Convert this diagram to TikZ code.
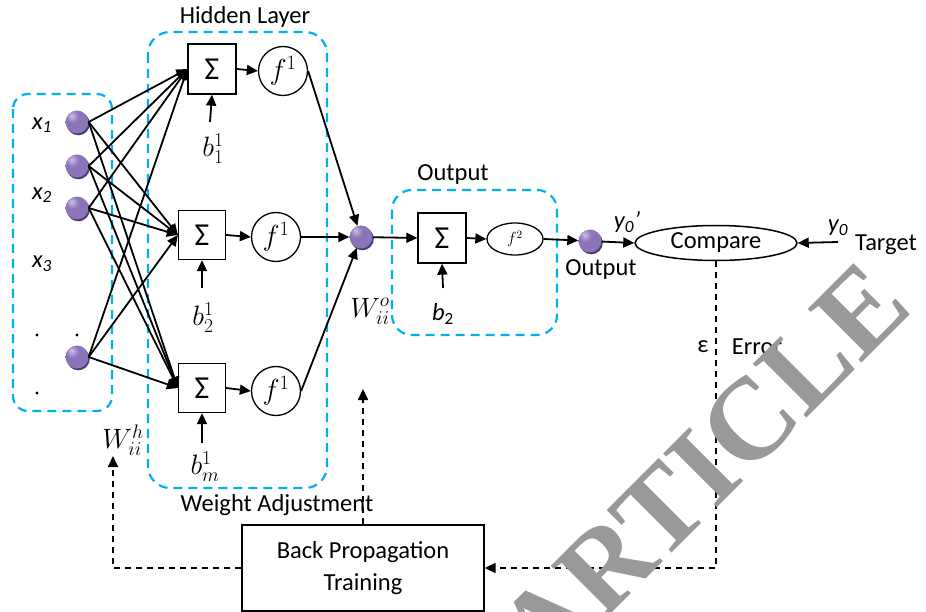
\RequirePackage{fix-cm}
\documentclass[tikz,border=0pt]{standalone}
\usepackage{fontspec}
\setmainfont{Carlito}
\newfontfamily\wmfont{Liberation Serif}
\usetikzlibrary{arrows.meta,shadows,shapes.geometric}
\definecolor{dblue}{RGB}{0,176,240}
\definecolor{ballh}{RGB}{205,190,230}
\definecolor{ballc}{RGB}{140,116,185}
\definecolor{ballo}{RGB}{110,88,155}
\definecolor{balld}{RGB}{78,58,112}
\definecolor{wmgray}{RGB}{153,153,153}
\pgfdeclareradialshading{purpball}{\pgfpoint{-12bp}{14bp}}{color(0bp)=(ballh); color(14bp)=(ballc); color(42bp)=(ballc); color(62bp)=(ballo); color(100bp)=(ballo)}
\newcommand\fsz{\fontsize{24.5pt}{29pt}\selectfont}
\newcommand\mfs{\fontsize{28pt}{32pt}\selectfont}
\newcommand\sig{{\fontsize{32pt}{32pt}\selectfont Σ}}
\begin{document}
\begin{tikzpicture}[x=1pt,y=-1pt, font=\fsz,
  arr/.style={line width=1.8pt, -{Triangle[length=11pt,width=10pt]}},
  sbox/.style={draw, line width=1.3pt, minimum width=47pt, minimum height=49pt, inner sep=0pt},
  fcirc/.style={draw, circle, line width=1.3pt, minimum size=49pt, inner sep=0pt},
  ball/.style={circle, minimum size=23pt, inner sep=0pt, shading=purpball,
    general shadow={fill=balld, shadow xshift=1.3pt, shadow yshift=-1.8pt}},
  grp/.style={draw=dblue, line width=2.2pt, dash pattern=on 9pt off 6pt},
  bk/.style={draw, line width=1.7pt, dash pattern=on 6pt off 5pt},
  bka/.style={bk, -{Triangle[length=11pt,width=10pt]}},
  dot/.style={circle, fill, minimum size=3.4pt, inner sep=0pt},
  mlab/.style={font=\mfs},
]
\useasboundingbox (0,0) rectangle (926,612);

% groups
\draw[grp, rounded corners=15pt] (13,94) rectangle (112,411);
\draw[grp, rounded corners=22pt] (148,32) rectangle (327,488);
\draw[grp, rounded corners=20pt] (392,190) rectangle (557,335);

% titles
\node (ht) at (245,17) {Hidden Layer};
\node (ot) at (453,175) {Output};
\node (wa) at (277,505) {Weight Adjustment};

% inputs
\node[ball] (i1) at (77,122) {};
\node[ball] (i2) at (77,166) {};
\node[ball] (i3) at (77,208) {};
\node[ball] (i4) at (77,357) {};
\node (x1) at (42,125) {\itshape x\textsubscript{1}};
\node (x2) at (42,195) {\itshape x\textsubscript{2}};
\node (x3) at (42,264) {\itshape x\textsubscript{3}};
\node[dot] (d1) at (37,335) {};
\node[dot] (d2) at (77,335) {};
\node[dot] (d3) at (37,393) {};

% hidden layer
\node[sbox, minimum width=48pt, minimum height=50pt] (s1) at (212,69) {\sig};
\node[sbox] (s2) at (202,235) {\sig};
\node[sbox] (s3) at (202,388) {\sig};
\node[fcirc] (f1) at (283,71) {\fontsize{29pt}{30pt}\selectfont$f^{1}$};
\node[fcirc] (f2) at (276,237) {\fontsize{29pt}{30pt}\selectfont$f^{1}$};
\node[fcirc] (f3) at (276,391) {\fontsize{29pt}{30pt}\selectfont$f^{1}$};
\node[mlab] (b1) at (213,149) {$b_1^1$};
\node[mlab] (b2l) at (203,318) {$b_2^1$};
\node[mlab] (bm) at (205,467) {$b_m^1$};
\coordinate (b1t) at (210,122);
\coordinate (b2t) at (202,288);
\coordinate (bmt) at (202,443);
\draw[arr] (b1t) -- (s1.south);
\draw[arr] (b2t) -- (s2.south);
\draw[arr] (bmt) -- (s3.south);
\draw[arr] (s1.east) -- (f1.west);
\draw[arr] (s2.east) -- (f2.west);
\draw[arr] (s3.east) -- (f3.west);

\foreach \i in {i1,i2,i3,i4}{
  \foreach \s in {s1,s2,s3}{
    \draw[arr] (\i.east) -- (\s.west);
  }
}

% hidden output node
\node[ball] (h) at (361,237) {};
\draw[arr] (f1.east) -- (h);
\draw[arr] (f2.east) -- (h);
\draw[arr] (f3.east) -- (h);
\node[mlab] (wo) at (370,311) {$W_{ii}^{o}$};

% output layer
\node[sbox, minimum width=48pt, minimum height=50pt] (so) at (442,238) {\sig};
\node[draw, ellipse, line width=1.3pt, minimum width=56pt, minimum height=32pt, inner sep=0pt] (fo) at (515,239) {\fontsize{16pt}{16pt}\selectfont$f^{2}$};
\node (bo) at (443,314) {{\itshape b}\textsubscript{2}};
\coordinate (bot) at (443,288);
\draw[arr] (bot) -- (so.south);
\draw[arr] (h) -- (so.west);
\draw[arr] (so.east) -- (fo.west);
\node[ball] (on) at (590,241) {};
\draw[arr] (fo.east) -- (on);
\node (outl) at (601,270) {Output};

% compare
\node[draw, ellipse, line width=1.5pt, minimum width=162pt, minimum height=35pt, inner sep=0pt] (cmp) at (716,243) {Compare};
\draw[arr] (on) -- (cmp.west);
\node (yp) at (627,222) {\itshape y\textsubscript{0}’};
\coordinate (tg) at (838,242);
\draw[arr] (tg) -- (cmp.east);
\node (y0) at (838,228) {\itshape y\textsubscript{0}};
\node (tgt) at (886,245) {Target};

% back propagation
\node[draw, line width=1.3pt, minimum width=242pt, minimum height=86pt, align=center,
  font=\fontsize{24.5pt}{32pt}\selectfont] (bp) at (363,568) {Back Propagation\\Training};
\draw[bka] (cmp.south) |- (bp.east);
\node (eps) at (703,347) {ε};
\node (err) at (757,347) {Error};
\coordinate (wt) at (363,389);
\draw[bka] (bp.north) -- (wt);
\coordinate (wh) at (113,456);
\draw[bka] (bp.west) -| (wh);
\node[mlab] (whl) at (123,440) {$W_{ii}^{h}$};

% watermark
\begin{scope}
\clip (0,0) rectangle (926,612);
\node[text=wmgray, inner sep=0pt, anchor=base west, rotate=45,
  font=\wmfont\bfseries\fontsize{116pt}{116pt}\selectfont] (wmk) at (544,681) {ARTICLE};
\end{scope}
\end{tikzpicture}
\end{document}
